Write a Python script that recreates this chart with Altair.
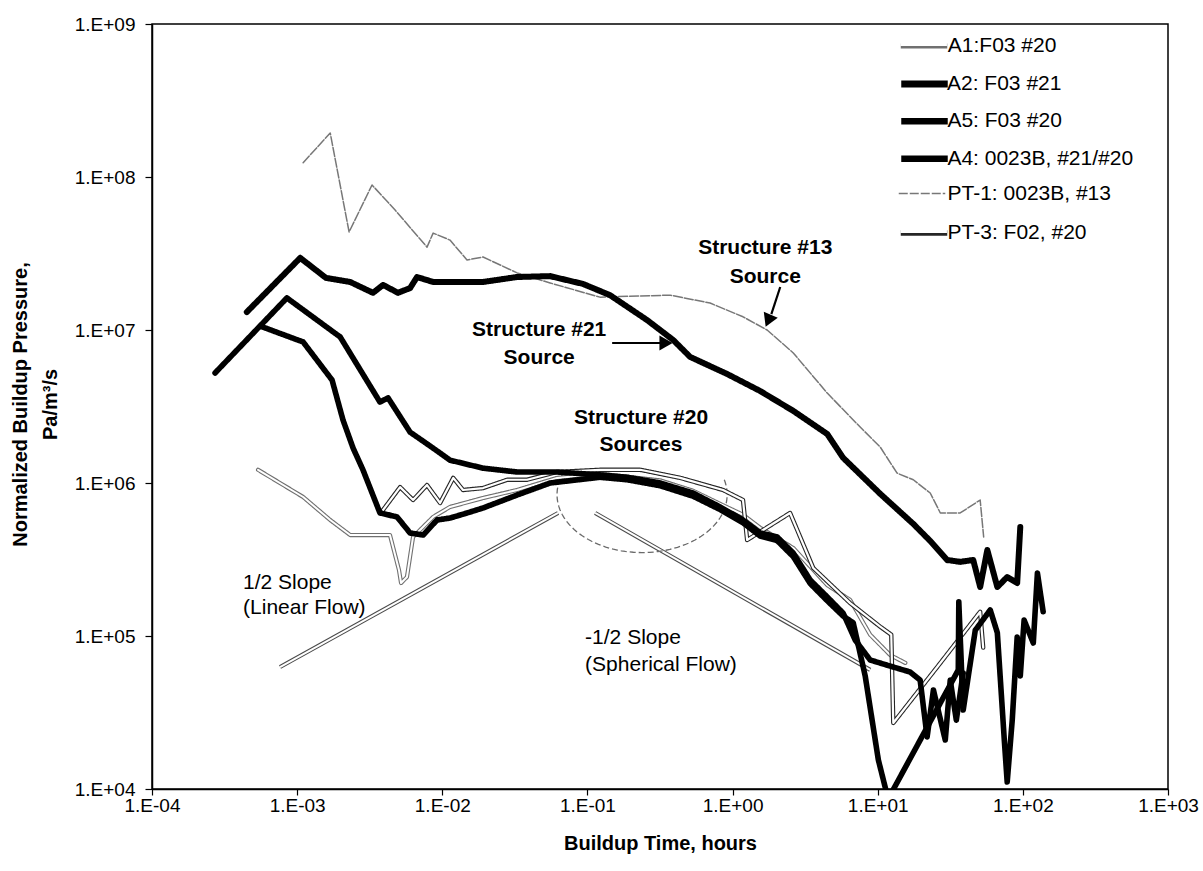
import altair as alt
import pandas as pd
import numpy as np

SERIES = ["A1:F03 #20", "A2: F03 #21", "A5: F03 #20", "A4: 0023B, #21/#20",
          "PT-1: 0023B, #13", "PT-3: F02, #20"]

# ---- series values (hours, Pa/m3/s) ----
A1_T = [5.38e-4, 1.10e-3, 1.69e-3, 2.32e-3, 4.36e-3, 5.03e-3, 5.2e-3, 5.71e-3, 6.29e-3, 8.65e-3,
        1.13e-2, 1.91e-2, 3.28e-2, 6.18e-2, 0.122, 0.317, 0.534, 0.822, 1.18, 1.55,
        2.62, 4.49, 6.46, 8.87, 12.2, 15.5]
A1_P = [1.22e6, 8.1e5, 5.73e5, 4.57e5, 4.57e5, 2.7e5, 2.22e5, 2.43e5, 4.44e5, 6.0e5,
        6.97e5, 7.98e5, 9.0e5, 1.08e6, 1.15e6, 1.04e6, 8.9e5, 7.3e5, 6.2e5, 5.1e5,
        3.76e5, 2.15e5, 1.72e5, 1.02e5, 7.5e4, 6.67e4]

A2_T = [4.5e-4, 1.05e-3, 1.58e-3, 2.32e-3, 3.33e-3, 3.91e-3, 4.95e-3, 6.0e-3, 6.7e-3, 8.65e-3,
        1.91e-2, 3.28e-2, 5.53e-2, 9.33e-2, 0.143, 0.258, 0.39, 0.51, 0.92, 1.55,
        2.62, 4.49, 5.78, 10.4, 17.6, 23.0, 30.1, 37.0, 45.5, 50.8,
        56.9, 66.7, 78.0, 91.4, 96.0]
A2_P = [1.31e7, 2.96e7, 2.19e7, 2.06e7, 1.75e7, 1.97e7, 1.75e7, 1.88e7, 2.22e7, 2.06e7,
        2.06e7, 2.22e7, 2.25e7, 2.0e7, 1.69e7, 1.16e7, 8.6e6, 6.67e6, 5.15e6, 3.99e6,
        2.96e6, 2.09e6, 1.46e6, 8.5e5, 5.4e5, 4.18e5, 3.14e5, 3.05e5, 3.14e5, 2.09e5,
        3.65e5, 2.09e5, 2.43e5, 2.22e5, 5.15e5]

A5_T = [5.73e-4, 1.10e-3, 1.74e-3, 2.07e-3, 2.43e-3, 2.84e-3, 3.72e-3, 4.88e-3, 6.0e-3, 7.38e-3,
        9.2e-3, 1.13e-2, 1.48e-2, 1.91e-2, 3.28e-2, 5.53e-2, 0.122, 0.188, 0.317, 0.534,
        0.822, 1.18, 1.55, 2.03, 2.62, 3.43, 4.49, 5.78, 6.78, 8.2,
        10.1, 11.8, 35.9, 36.2, 38.8, 47.0, 59.6, 66.7, 74.5, 78.0,
        84.5, 91.4, 96.0, 102, 118, 126, 138]
A5_P = [1.05e7, 8.35e6, 4.71e6, 2.58e6, 1.69e6, 1.22e6, 6.37e5, 6.0e5, 4.71e5, 4.57e5,
        5.73e5, 5.9e5, 6.37e5, 6.87e5, 8.35e5, 1.0e6, 1.09e6, 1.05e6, 9.6e5, 8.2e5,
        6.7e5, 5.5e5, 4.5e5, 4.2e5, 3.3e5, 2.2e5, 1.7e5, 1.35e5, 1.22e5, 5.48e4,
        1.55e4, 8.6e3, 6.0e4, 1.67e5, 3.28e4, 1.09e5, 1.48e5, 1.05e5, 2.09e4, 1.11e4,
        2.82e4, 9.86e4, 5.48e4, 1.27e5, 9.0e4, 2.58e5, 1.44e5]

A4_T = [2.72e-4, 8.5e-4, 1.98e-3, 3.72e-3, 4.23e-3, 6.0e-3, 8.65e-3, 1.13e-2, 1.91e-2, 3.28e-2,
        6.18e-2, 0.122, 0.188, 0.317, 0.534, 0.822, 1.18, 1.55, 2.03, 2.62,
        3.43, 4.49, 5.78, 7.0, 8.87, 12.8, 16.7, 19.6, 21.9, 24.2,
        29.2, 31.6, 34.8, 38.8]
A4_P = [5.24e6, 1.62e7, 9.0e6, 3.38e6, 3.6e6, 2.15e6, 1.69e6, 1.41e6, 1.25e6, 1.18e6,
        1.18e6, 1.13e6, 1.09e6, 1.0e6, 8.6e5, 6.97e5, 5.73e5, 4.71e5, 4.44e5, 3.48e5,
        2.32e5, 1.80e5, 1.41e5, 9.4e4, 6.97e4, 6.27e4, 5.82e4, 5.15e4, 2.19e4, 4.44e4,
        2.09e4, 5.15e4, 2.82e4, 5.73e4]

PT1_T = [1.10e-3, 1.69e-3, 2.28e-3, 3.28e-3, 4.73e-3, 7.85e-3, 8.65e-3, 1.13e-2, 1.48e-2, 1.91e-2,
         3.28e-2, 5.53e-2, 0.122, 0.372, 0.70, 1.18, 1.73, 2.62, 4.49, 7.57,
         10.4, 13.6, 17.6, 23.0, 27.0, 37.0, 50.8, 53.7]
PT1_P = [1.24e8, 1.94e8, 4.37e7, 8.87e7, 6.08e7, 3.48e7, 4.3e7, 3.87e7, 2.87e7, 3.0e7,
         2.36e7, 2.03e7, 1.64e7, 1.69e7, 1.5e7, 1.22e7, 1.0e7, 7.08e6, 3.87e6, 2.32e6,
         1.72e6, 1.16e6, 1.05e6, 8.6e5, 6.37e5, 6.37e5, 7.74e5, 4.44e5]

PT3_T = [3.91e-3, 5.12e-3, 6.29e-3, 7.85e-3, 9.66e-3, 1.19e-2, 1.39e-2, 1.91e-2, 2.8e-2, 3.84e-2,
         6.18e-2, 0.122, 0.231, 0.436, 0.86, 1.18, 1.26, 2.49, 3.6, 6.46,
         10.4, 12.4, 12.8, 25.7, 50.8, 53.3]
PT3_P = [6.67e5, 9.4e5, 7.74e5, 9.7e5, 7.4e5, 1.08e6, 9.0e5, 9.27e5, 1.05e6, 1.05e6,
         1.18e6, 1.22e6, 1.22e6, 1.08e6, 9.0e5, 7.74e5, 4.24e5, 6.37e5, 2.78e5, 1.64e5,
         1.15e5, 1.02e5, 2.7e4, 6.27e4, 1.44e5, 8.4e4]

# slope guide lines (end points)
SLOPE_NAMES = ["half", "half", "neghalf", "neghalf"]
SLOPE_T = [7.62e-4, 6.28e-2, 0.113, 8.87]
SLOPE_P = [6.27e4, 6.37e5, 6.37e5, 6.0e4]

# oval drawn round the Structure #20 region (centre and half-widths in decades)
OVAL_CT, OVAL_CP = 0.238, 8.4e5
OVAL_RT, OVAL_RP = 0.586, 0.379
OVAL_FROM, OVAL_TO = 156, 375

# annotations
BOLD_TXT = ["Structure #13", "Source", "Structure #21", "Source", "Structure #20", "Sources"]
BOLD_T = [1.68, 1.68, 0.0465, 0.0465, 0.234, 0.234]
BOLD_P = [3.44e7, 2.22e7, 1.0e7, 6.56e6, 2.66e6, 1.77e6]
NOTE_TXT = ["1/2 Slope", "(Linear Flow)", "-1/2 Slope", "(Spherical Flow)"]
NOTE_T = [4.24e-4, 4.24e-4, 0.0964, 0.0964]
NOTE_P = [2.22e5, 1.52e5, 9.7e4, 6.46e4]
ARROW_T = [0.148, 2.13]
ARROW_P = [8.22e6, 1.91e7]
ARROW_T2 = [0.317, 1.85]
ARROW_P2 = [8.22e6, 1.27e7]
HEAD_T = [0.348, 1.76]
HEAD_P = [8.22e6, 1.15e7]
HEAD_ANGLE = [90, 203]

# ---- styles ----
# series -> (outer colour, outer width, dash, inner white width or None)
STYLE = {
    "A1:F03 #20": ("#707070", 4.2, [1, 0], 2.0),
    "A2: F03 #21": ("#000000", 6.0, [1, 0], None),
    "A5: F03 #20": ("#000000", 5.6, [1, 0], None),
    "A4: 0023B, #21/#20": ("#000000", 5.6, [1, 0], None),
    "PT-1: 0023B, #13": ("#777777", 1.5, [9, 2], None),
    "PT-3: F02, #20": ("#262626", 4.4, [1, 0], 2.2),
}
DRAW_ORDER = ["PT-1: 0023B, #13", "A1:F03 #20", "PT-3: F02, #20",
              "A4: 0023B, #21/#20", "A5: F03 #20", "A2: F03 #21"]

# ---- tables ----
rows = []
for name, ts, ps in [(SERIES[0], A1_T, A1_P), (SERIES[1], A2_T, A2_P), (SERIES[2], A5_T, A5_P),
                     (SERIES[3], A4_T, A4_P), (SERIES[4], PT1_T, PT1_P), (SERIES[5], PT3_T, PT3_P)]:
    for i, (t, p) in enumerate(zip(ts, ps)):
        rows.append({"series": name, "t": t, "p": p, "i": i})
df = pd.DataFrame(rows)

slope_df = pd.DataFrame({"g": SLOPE_NAMES, "t": SLOPE_T, "p": SLOPE_P})
th = np.radians(np.linspace(OVAL_FROM, OVAL_TO, 80))
oval_df = pd.DataFrame({
    "t": 10 ** (np.log10(OVAL_CT) + OVAL_RT * np.cos(th)),
    "p": 10 ** (np.log10(OVAL_CP) + OVAL_RP * np.sin(th)),
    "i": np.arange(len(th)),
})
bold_df = pd.DataFrame({"label": BOLD_TXT, "t": BOLD_T, "p": BOLD_P})
note_df = pd.DataFrame({"label": NOTE_TXT, "t": NOTE_T, "p": NOTE_P})
arrow_df = pd.DataFrame({"t": ARROW_T, "p": ARROW_P, "t2": ARROW_T2, "p2": ARROW_P2})
head_df = pd.DataFrame({"t": HEAD_T, "p": HEAD_P, "a": HEAD_ANGLE})

FONT = "Liberation Sans"
LABEL_EXPR = "'1.E' + (datum.value >= 1 ? '+' : '-') + format(abs(round(log(datum.value) / LN10)), '02d')"

x_enc = alt.X("t:Q",
              scale=alt.Scale(type="log", domain=[1e-4, 1e3], nice=False),
              axis=alt.Axis(values=[1e-4, 1e-3, 1e-2, 1e-1, 1, 10, 100, 1000],
                            labelExpr=LABEL_EXPR, title="Buildup Time, hours",
                            grid=False, tickSize=6, labelPadding=1, labelFlush=False,
                            labelOverlap=False, titleX=508, titleY=54,
                            titleBaseline="middle", titleAlign="center"))
y_enc = alt.Y("p:Q",
              scale=alt.Scale(type="log", domain=[1e4, 1e9], nice=False),
              axis=alt.Axis(values=[1e4, 1e5, 1e6, 1e7, 1e8, 1e9],
                            labelExpr=LABEL_EXPR,
                            title=["Normalized Buildup Pressure,", "Pa/m\u00b3/s"],
                            grid=False, tickSize=7, labelPadding=10, labelFlush=False,
                            labelOverlap=False, titleAngle=270, titleX=-142, titleY=380,
                            titleBaseline="top", titleAlign="center", titleLineHeight=30))

LEG_X, LEG_Y0, LEG_STEP = 754, 4, 37.4
LEG_OUTER_W = 5.2   # legend symbol width of the hollow series' outline


def legend_for(k, width, dash, blank=False, dx=0.0):
    kw = dict(orient="none", legendX=LEG_X + dx, legendY=LEG_Y0 + k * LEG_STEP, title=None,
              symbolType="M-1.55,0H1.55", symbolSize=900, labelFontSize=21, labelFont=FONT,
              labelOffset=max(11.0 - width, 0.5), padding=0, labelLimit=400, labelColor="black",
              symbolStrokeWidth=width, symbolDash=dash)
    if blank:
        kw["labelExpr"] = "''"
    return alt.Legend(**kw)


outer_layers = []
for name in DRAW_ORDER:
    col, w, dash, inner_w = STYLE[name]
    k = SERIES.index(name)
    sub = df[df["series"] == name]
    lw = w + 1.0 if w > 3 else w
    outer_layers.append(
        alt.Chart(sub).mark_line(clip=True, strokeCap="round", strokeJoin="round",
                                 strokeWidth=w, strokeDash=dash).encode(
            x=x_enc, y=y_enc,
            color=alt.Color("series:N", scale=alt.Scale(domain=[name], range=[col]),
                            legend=legend_for(k, lw, dash)),
            order=alt.Order("i:Q"),
        )
    )
    if inner_w is not None:
        iw = inner_w + 0.8
        outer_layers.append(
            alt.Chart(sub).mark_line(clip=True, strokeCap="round", strokeJoin="round",
                                     strokeWidth=inner_w).encode(
                x=x_enc, y=y_enc,
                color=alt.Color("series:N", scale=alt.Scale(domain=[name], range=["#ffffff"]),
                                legend=legend_for(k, iw, [1, 0], blank=True, dx=(lw - iw) / 2)),
                order=alt.Order("i:Q"),
            )
        )

slope_outer = alt.Chart(slope_df).mark_line(color="#4a4a4a", strokeWidth=4.2, clip=True).encode(
    x=x_enc, y=y_enc, detail="g:N")
slope_inner = alt.Chart(slope_df).mark_line(color="white", strokeWidth=2.0, clip=True).encode(
    x=x_enc, y=y_enc, detail="g:N")
oval = alt.Chart(oval_df).mark_line(color="#6a6a6a", strokeWidth=1.3, strokeDash=[6, 3], clip=True).encode(
    x=x_enc, y=y_enc, order=alt.Order("i:Q"))

bold_text = alt.Chart(bold_df).mark_text(font=FONT, fontSize=21, fontWeight="bold", color="black",
                                         align="center", baseline="middle").encode(
    x=x_enc, y=y_enc, text="label:N")
note_text = alt.Chart(note_df).mark_text(font=FONT, fontSize=21, color="black",
                                         align="left", baseline="middle").encode(
    x=x_enc, y=y_enc, text="label:N")
arrows = alt.Chart(arrow_df).mark_rule(color="black", strokeWidth=2.2).encode(
    x=x_enc, y=y_enc, x2="t2:Q", y2="p2:Q")
heads = alt.Chart(head_df).mark_point(shape="triangle-up", filled=True, color="black",
                                      size=230, opacity=1).encode(
    x=x_enc, y=y_enc, angle=alt.Angle("a:Q", scale=None))

chart = alt.layer(
    slope_outer, slope_inner, oval, *outer_layers, arrows, heads, bold_text, note_text
).resolve_scale(
    color="independent"
).properties(
    width=1016, height=765,
    autosize=alt.AutoSizeParams(type="none"),
    padding={"left": 152, "top": 24, "right": 35, "bottom": 82},
    background="white",
).configure_view(
    stroke="black", strokeWidth=1.5
).configure_axis(
    labelFont=FONT, labelFontSize=19, labelColor="black",
    titleFont=FONT, titleFontSize=20, titleFontWeight="bold", titleColor="black",
    domainColor="black", domainWidth=1.5, tickColor="black", tickWidth=1.2,
)

chart.save("out.html", embed_options={"renderer": "svg", "actions": False})
